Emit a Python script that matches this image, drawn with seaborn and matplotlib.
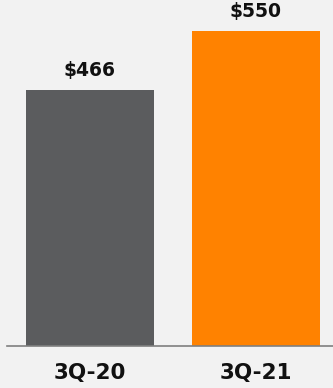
import matplotlib
matplotlib.use("Agg")
import matplotlib.pyplot as plt
import seaborn as sns
import pandas as pd

categories = ["3Q-20", "3Q-21"]
values = [466, 550]
labels = ["$466", "$550"]
colors = ["#5b5c5e", "#ff8200"]

sns.set_theme(style="white")
plt.rcParams['font.family'] = ['DejaVu Sans']
plt.rcParams['font.sans-serif'] = ['DejaVu Sans']

df = pd.DataFrame({"cat": categories, "val": values})

fig = plt.figure(figsize=(3.33, 3.88), dpi=100, facecolor="#f2f2f2")
ax = fig.add_axes([7/333, 42/388, 326/333, 346/388])
ax.set_facecolor("#f2f2f2")
sns.barplot(data=df, x="cat", y="val", hue="cat", palette=colors, width=0.771,
            saturation=1, legend=False, linewidth=0, edgecolor="none", ax=ax)
ax.set_xlim(-0.5, 1.464)
ax.set_ylim(101.5, 594)
for i, (v, t) in enumerate(zip(values, labels)):
    ax.text(i, v + 14, t, ha="center", va="bottom", fontsize=13.5,
            fontweight="bold", family="DejaVu Sans", color="#111111")
for s in ["top", "right", "left"]:
    ax.spines[s].set_visible(False)
ax.spines["bottom"].set_color("#7f7f7f")
ax.spines["bottom"].set_linewidth(1.2)
ax.set_yticks([])
ax.set_xlabel("")
ax.set_ylabel("")
ax.tick_params(axis="x", length=0, pad=12)
ax.set_xticks(range(len(categories)))
ax.set_xticklabels(categories, fontsize=15.5, fontweight="bold", family="DejaVu Sans", color="#111111")
fig.savefig("out.png", dpi=100, facecolor="#f2f2f2")
